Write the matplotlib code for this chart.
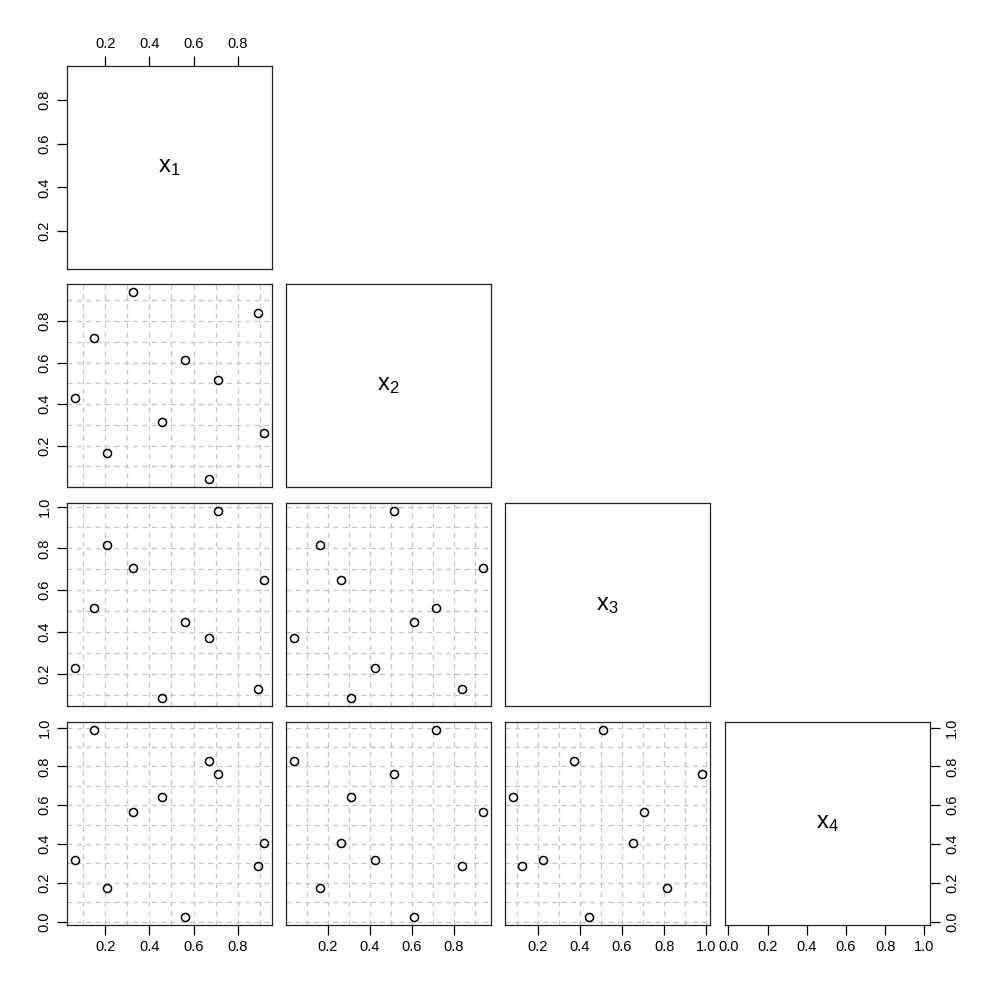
import matplotlib
matplotlib.use("Agg")
import matplotlib.pyplot as plt
import numpy as np

plt.rcParams['font.family'] = ['Liberation Sans', 'DejaVu Sans']
plt.rcParams['mathtext.fontset'] = 'custom'
plt.rcParams['mathtext.rm'] = 'Liberation Sans'
plt.rcParams['mathtext.it'] = 'Liberation Sans'

# latin hypercube sample, 10 points in 4 dimensions
x1 = [0.151, 0.061, 0.208, 0.324, 0.457, 0.563, 0.668, 0.709, 0.892, 0.921]
x2 = [0.717, 0.427, 0.163, 0.942, 0.312, 0.613, 0.037, 0.518, 0.838, 0.262]
x3 = [0.512, 0.226, 0.814, 0.706, 0.081, 0.445, 0.370, 0.981, 0.125, 0.650]
x4 = [0.990, 0.316, 0.171, 0.567, 0.641, 0.021, 0.829, 0.761, 0.288, 0.405]
names = [r'$\mathrm{x}_1$', r'$\mathrm{x}_2$', r'$\mathrm{x}_3$', r'$\mathrm{x}_4$']
tick_vals = [0.0, 0.2, 0.4, 0.6, 0.8, 1.0]
grid_vals = [0.0, 0.1, 0.2, 0.3, 0.4, 0.5, 0.6, 0.7, 0.8, 0.9, 1.0]

data = [x1, x2, x3, x4]
n = len(data)

W, H = 997, 993
fig = plt.figure(figsize=(W / 100, H / 100), dpi=100)

# panel edges in pixels
col_left = [67, 286, 505, 725]
row_top = [66, 284, 503, 722]
pw, ph = 205, 203


def lims(v):
    lo, hi = min(v), max(v)
    r = hi - lo
    return lo - 0.04 * r, hi + 0.04 * r


def style_axis(ax):
    for s in ax.spines.values():
        s.set_linewidth(0.9)
        s.set_color('#222222')
    ax.tick_params(direction='out', length=7, width=0.9, labelsize=10.5, pad=4,
                   bottom=False, top=False, left=False, right=False,
                   labelbottom=False, labeltop=False, labelleft=False, labelright=False)
    ax.set_xticks(tick_vals)
    ax.set_yticks(tick_vals)
    ax.set_xticklabels(['%.1f' % t for t in tick_vals])
    ax.set_yticklabels(['%.1f' % t for t in tick_vals], rotation=90, va='center')


for i in range(n):          # row -> y variable
    for j in range(i + 1):  # col -> x variable
        left = col_left[j] / W
        bottom = 1 - (row_top[i] + ph) / H
        ax = fig.add_axes([left, bottom, pw / W, ph / H])
        style_axis(ax)
        ax.set_xlim(lims(data[j]))
        ax.set_ylim(lims(data[i]))

        if i == j:
            ax.text(0.5, 0.5, names[i], transform=ax.transAxes,
                    ha='center', va='center', fontsize=17)
        else:
            for g in grid_vals:
                ax.axvline(g, color='#c4c4c4', lw=0.9, ls=(0, (4, 3.5)), zorder=1)
                ax.axhline(g, color='#c4c4c4', lw=0.9, ls=(0, (4, 3.5)), zorder=1)
            ax.plot(data[j], data[i], 'o', mfc='none', mec='black', mew=1.1,
                    ms=5.8, zorder=3)

        # axes like R pairs
        if j == 0:
            ax.tick_params(left=True, labelleft=True)
        if i == n - 1:
            ax.tick_params(bottom=True, labelbottom=True)
        if i == 0 and j == 0:
            ax.tick_params(top=True, labeltop=True)
        if i == n - 1 and j == n - 1:
            ax.tick_params(right=True, labelright=True)

fig.savefig('out.png', dpi=100)
